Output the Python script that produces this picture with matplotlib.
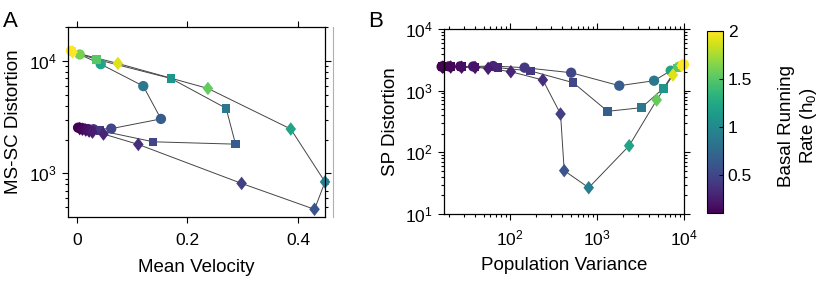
import numpy as np
import matplotlib
matplotlib.use("Agg")
from matplotlib import pyplot as plt
from matplotlib.lines import Line2D

plt.rcParams["font.family"] = ["Liberation Sans", "DejaVu Sans"]
plt.rcParams["mathtext.fontset"] = "custom"
plt.rcParams["mathtext.rm"] = "Liberation Sans"
plt.rcParams["mathtext.default"] = "regular"

# basal running rate (h0) for every point, per marker series
h0_circle = [0.1, 0.13, 0.17, 0.22, 0.3, 0.4, 0.5, 0.65, 0.85, 1.2, 1.6, 2.0]
h0_square = [0.1, 0.13, 0.17, 0.22, 0.3, 0.4, 0.5, 0.65, 0.85, 1.1, 1.5, 2.0]
h0_diamond = [0.1, 0.13, 0.17, 0.2, 0.25, 0.3, 0.35, 0.45, 0.6, 0.9, 1.2, 1.55, 1.9, 2.0]

# panel A: mean velocity vs MS-SC distortion
vel_circle = [0.002, 0.005, 0.009, 0.013, 0.02, 0.03, 0.062, 0.152, 0.120, 0.043, 0.005, -0.011]
msd_circle = [2550, 2540, 2520, 2500, 2480, 2470, 2500, 3050, 5970, 9350, 11400, 12270]
vel_square = [0.004, 0.008, 0.012, 0.018, 0.026, 0.042, 0.138, 0.287, 0.270, 0.170, 0.0356, -0.009]
msd_square = [2540, 2520, 2490, 2460, 2430, 2400, 1910, 1820, 3790, 6980, 10290, 12100]
vel_diamond = [0.005, 0.010, 0.016, 0.022, 0.028, 0.048, 0.111, 0.298, 0.430, 0.449, 0.387, 0.237, 0.074, -0.008]
msd_diamond = [2500, 2470, 2430, 2380, 2330, 2240, 1810, 815, 480, 840, 2480, 5690, 9490, 12000]

# panel B: population variance vs SP distortion
var_circle = [16.5, 20, 27, 38, 64.5, 148, 507, 1810, 4540, 7050, 8770, 10000]
spd_circle = [2450, 2480, 2480, 2470, 2510, 2360, 1955, 1205, 1450, 2110, 2450, 2680]
var_square = [17, 21, 28, 40, 73.5, 174, 535, 1330, 3250, 5810, 8300, 9700]
spd_square = [2450, 2470, 2460, 2440, 2360, 2085, 1350, 463, 530, 1090, 2340, 2620]
var_diamond = [17, 21, 28, 40, 56.5, 103, 240, 383, 422, 807, 2350, 4870, 7480, 9400]
spd_diamond = [2400, 2420, 2400, 2380, 2300, 2030, 1490, 419, 50.5, 26.7, 128, 706, 1795, 2550]

diamond = [(0, 1), (0.78, 0), (0, -1), (-0.78, 0), (0, 1)]
styles = [("o", 55), ("s", 38), (diamond, 95)]

fig = plt.figure(figsize=(8.3, 2.9), dpi=100)
axA = fig.add_axes([0.0819, 0.2517, 0.3097, 0.6552])
axB = fig.add_axes([0.535, 0.262, 0.289, 0.638])
cax = fig.add_axes([0.852, 0.2655, 0.019, 0.6275])


def draw(ax, series):
    sc = None
    for (x, y, h), (m, s) in zip(series, styles):
        ax.plot(x, y, color="#454545", lw=0.7, zorder=1, clip_on=False)
        sc = ax.scatter(x, y, c=h, cmap="viridis", vmin=0.1, vmax=2, marker=m,
                        s=s, linewidths=0, zorder=2, clip_on=False)
    return sc


def style(ax):
    for sp in ax.spines.values():
        sp.set_linewidth(0.9)
    ax.tick_params(which="both", direction="out", top=True, right=True,
                   labelsize=12.5, width=0.8)
    ax.tick_params(which="major", length=4.5)
    ax.tick_params(which="minor", length=2.5)


draw(axA, [(vel_circle, msd_circle, h0_circle),
           (vel_square, msd_square, h0_square),
           (vel_diamond, msd_diamond, h0_diamond)])
axA.set_yscale("log")
axA.set_xlim(-0.0163, 0.449)
axA.set_ylim(410, 2.0e4)
axA.set_xticks([0, 0.2, 0.4])
axA.set_xticklabels(["0", "0.2", "0.4"])
axA.set_yticks([1e3, 1e4])
style(axA)
axA.tick_params(axis="x", pad=7)
axA.set_xlabel("Mean Velocity", fontsize=13.5, labelpad=8)
axA.set_ylabel("MS-SC Distortion", fontsize=13.5, labelpad=5)

sc = draw(axB, [(var_circle, spd_circle, h0_circle),
                (var_square, spd_square, h0_square),
                (var_diamond, spd_diamond, h0_diamond)])
axB.set_xscale("log")
axB.set_yscale("log")
axB.set_xlim(17.6, 1e4)
axB.set_ylim(10, 1e4)
axB.set_xticks([1e2, 1e3, 1e4])
axB.set_yticks([1e1, 1e2, 1e3, 1e4])
style(axB)
axB.tick_params(axis="x", pad=6)
axB.set_xlabel("Population Variance", fontsize=13.5, labelpad=6)
axB.set_ylabel("SP Distortion", fontsize=13.5, labelpad=4)

cb = fig.colorbar(sc, cax=cax, ticks=[0.5, 1, 1.5, 2])
cb.ax.set_yticklabels(["0.5", "1", "1.5", "2"])
cb.outline.set_linewidth(0.8)
cb.ax.tick_params(direction="in", length=3, width=0.8, labelsize=12.5)
fig.text(0.962, 0.565, "Basal Running\nRate (h$_0$)", rotation=90, ha="center",
         va="center", multialignment="center", fontsize=13.5)

fig.text(0.004, 0.925, "A", fontsize=16, ha="left", va="center")
fig.text(0.444, 0.925, "B", fontsize=16, ha="left", va="center")
fig.add_artist(Line2D([0.401, 0.401], [0.2517, 0.9069], color="#b0b0b0", lw=0.8))

fig.savefig("out.png", dpi=100)
